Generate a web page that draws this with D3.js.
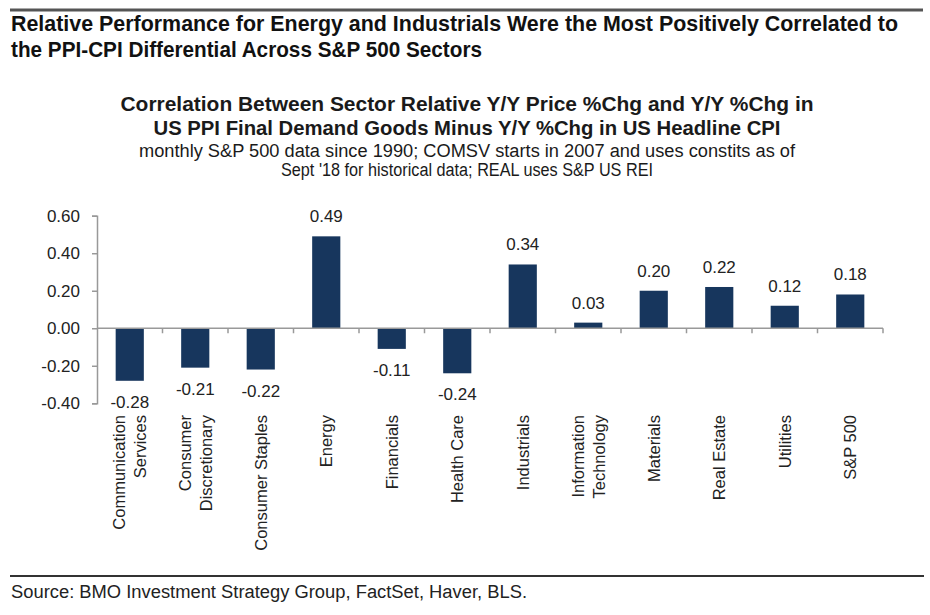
<!DOCTYPE html>
<html>
<head>
<meta charset="utf-8">
<script src="https://cdn.jsdelivr.net/npm/d3@7"></script>
<style>
  html, body { margin: 0; padding: 0; background: #fff; }
  svg { display: block; }
</style>
</head>
<body>
<svg id="chart" width="930" height="615"></svg>
<script>
// ---- data ----
const categories = [
  ["Communication", "Services"],
  ["Consumer", "Discretionary"],
  ["Consumer Staples"],
  ["Energy"],
  ["Financials"],
  ["Health Care"],
  ["Industrials"],
  ["Information", "Technology"],
  ["Materials"],
  ["Real Estate"],
  ["Utilities"],
  ["S&P 500"]
];
const values = [-0.28, -0.21, -0.22, 0.49, -0.11, -0.24, 0.34, 0.03, 0.20, 0.22, 0.12, 0.18];
const yTicks = [-0.40, -0.20, 0.00, 0.20, 0.40, 0.60];
const titleLines = [
  "Relative Performance for Energy and Industrials Were the Most Positively Correlated to",
  "the PPI-CPI Differential Across S&P 500 Sectors"
];
const subtitleLines = [
  "Correlation Between Sector Relative Y/Y Price %Chg and Y/Y %Chg in",
  "US PPI Final Demand Goods Minus Y/Y %Chg in US Headline CPI"
];
const noteLines = [
  "monthly S&P 500 data since 1990; COMSV starts in 2007 and uses  constits as of",
  "Sept '18 for historical data; REAL uses S&P US REI"
];
const sourceText = "Source: BMO Investment Strategy Group, FactSet, Haver, BLS.";

// ---- drawing ----
const svg = d3.select("#chart");
const narrow = "'Liberation Sans Narrow', 'Arial Narrow', 'Liberation Sans', Arial, sans-serif";
const sans = "'Liberation Sans', Arial, sans-serif";
const fmt = v => d3.format(".2f")(v).replace("\u2212", "-");

// top rule
svg.append("line").attr("x1", 10).attr("x2", 923).attr("y1", 10).attr("y2", 10)
  .attr("stroke", "#555").attr("stroke-width", 3);

// titles
const titleW = [887, 471];
svg.selectAll("text.title").data(titleLines).join("text")
  .attr("class", "title")
  .attr("x", 11).attr("y", (d, i) => 31 + i * 26)
  .attr("font-family", narrow).attr("font-weight", "bold").attr("font-size", 22)
  .attr("fill", "#111")
  .attr("textLength", (d, i) => titleW[i]).attr("lengthAdjust", "spacingAndGlyphs")
  .text(d => d);

const subW = [693, 627];
svg.selectAll("text.sub").data(subtitleLines).join("text")
  .attr("class", "sub")
  .attr("x", 467).attr("y", (d, i) => 111 + i * 24)
  .attr("text-anchor", "middle")
  .attr("font-family", narrow).attr("font-weight", "bold").attr("font-size", 21)
  .attr("fill", "#1a1a1a")
  .attr("textLength", (d, i) => subW[i]).attr("lengthAdjust", "spacingAndGlyphs")
  .text(d => d);

const noteW = [656, 372];
svg.selectAll("text.note").data(noteLines).join("text")
  .attr("class", "note")
  .attr("x", 467).attr("y", (d, i) => 157 + i * 19)
  .attr("text-anchor", "middle")
  .attr("font-family", narrow).attr("font-size", 18)
  .attr("fill", "#1a1a1a")
  .attr("textLength", (d, i) => noteW[i]).attr("lengthAdjust", "spacingAndGlyphs")
  .text(d => d);

// scales
const x = d3.scaleBand().domain(d3.range(categories.length)).range([97, 883]).paddingInner(0.57).paddingOuter(0.285);
const xOuter = d3.scaleBand().domain(d3.range(categories.length)).range([97, 883]);
const y = d3.scaleLinear().domain([-0.4, 0.6]).range([403.3, 215.7]);

const axisColor = "#999";

// y axis
const yAxis = svg.append("g").attr("transform", "translate(97,0)")
  .call(d3.axisLeft(y).tickValues(yTicks).tickSize(5).tickPadding(12).tickFormat(fmt));
yAxis.select(".domain").attr("stroke", axisColor).attr("stroke-width", 1.5);
yAxis.selectAll(".tick line").attr("stroke", axisColor).attr("stroke-width", 1.5);
yAxis.selectAll(".tick text").attr("font-family", sans).attr("font-size", 17).attr("fill", "#222");

// bars
svg.selectAll("rect.bar").data(values).join("rect")
  .attr("class", "bar")
  .attr("x", (d, i) => x(i))
  .attr("width", x.bandwidth())
  .attr("y", d => y(Math.max(0, d)))
  .attr("height", d => Math.abs(y(d) - y(0)))
  .attr("fill", "#17365d");

// zero axis
svg.append("line").attr("x1", 97).attr("x2", 883).attr("y1", y(0)).attr("y2", y(0))
  .attr("stroke", axisColor).attr("stroke-width", 1.5);
svg.selectAll("line.xtick").data(d3.range(1, categories.length + 1)).join("line")
  .attr("class", "xtick")
  .attr("x1", d => xOuter.step() * d + 97).attr("x2", d => xOuter.step() * d + 97)
  .attr("y1", y(0)).attr("y2", y(0) + 5)
  .attr("stroke", axisColor).attr("stroke-width", 1.5);

// value labels
svg.selectAll("text.val").data(values).join("text")
  .attr("class", "val")
  .attr("x", (d, i) => x(i) + x.bandwidth() / 2)
  .attr("y", d => d >= 0 ? y(d) - 14 : y(d) + 27)
  .attr("text-anchor", "middle")
  .attr("font-family", sans).attr("font-size", 17).attr("fill", "#222")
  .text(d => fmt(d));

// category labels (rotated)
const catG = svg.selectAll("g.cat").data(categories).join("g")
  .attr("class", "cat")
  .attr("transform", (d, i) => `translate(${xOuter(i) + xOuter.bandwidth() / 2},415) rotate(-90)`);
catG.selectAll("text").data(d => d.map((t, j) => ({ t, j, n: d.length }))).join("text")
  .attr("x", 0)
  .attr("y", d => (d.j - (d.n - 1) / 2) * 21)
  .attr("dy", "0.35em")
  .attr("text-anchor", "end")
  .attr("font-family", sans).attr("font-size", 16.5).attr("fill", "#222")
  .text(d => d.t);

// bottom rule
svg.append("line").attr("x1", 10).attr("x2", 924).attr("y1", 576).attr("y2", 576)
  .attr("stroke", "#333").attr("stroke-width", 2);

svg.append("text").attr("x", 11).attr("y", 598)
  .attr("font-family", narrow).attr("font-size", 18).attr("fill", "#222")
  .attr("textLength", 516).attr("lengthAdjust", "spacingAndGlyphs")
  .text(sourceText);
</script>
</body>
</html>
